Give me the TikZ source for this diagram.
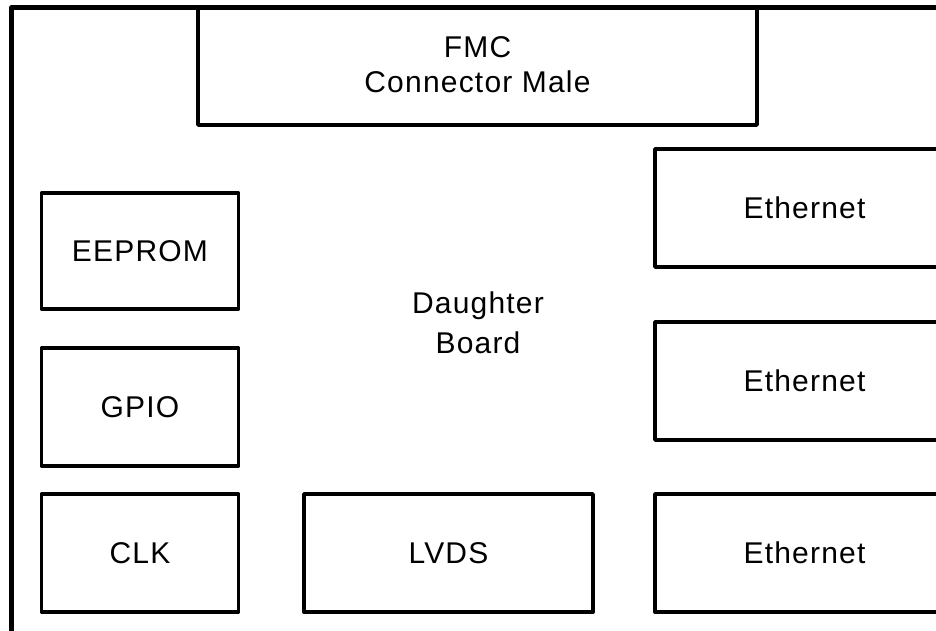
\documentclass[tikz,border=0pt]{standalone}
\usepackage{fontspec}
\setmainfont{Liberation Sans}[LetterSpace=4]
\begin{document}
\begin{tikzpicture}[x=1pt,y=-1pt,
  box/.style={draw=black, line width=3.8pt, line join=round, rectangle, inner sep=0pt,
    font=\fontsize{30}{35}\selectfont},
  outerline/.style={draw=black, line width=4.8pt, line join=round},
  txt/.style={inner sep=0pt, align=center}]
\useasboundingbox (0,0) rectangle (936,630);
\clip (0,0) rectangle (936,630);
% outer board
\draw[outerline] (11.5,700) -- (11.5,7.5) -- (1000,7.5);
% FMC connector
\node[box, minimum width=559pt, minimum height=117.5pt] (fmc) at (477.5,66.25) {};
\node[txt, anchor=base, font=\fontsize{30}{35}\selectfont] (fmctxt) at (477.5,92) {FMC\\Connector Male};
% left column
\node[box, minimum width=197pt, minimum height=116pt] (eeprom) at (140,251) {EEPROM};
\node[box, minimum width=197pt, minimum height=118pt] (gpio) at (140,407) {GPIO};
\node[box, minimum width=197pt, minimum height=118pt] (clk) at (140,553) {CLK};
% LVDS
\node[box, minimum width=289pt, minimum height=118pt] (lvds) at (448.5,553) {LVDS};
% Ethernet column (extends past the right edge)
\node[box, minimum width=299pt, minimum height=118pt] (eth1) at (804.5,208) {Ethernet};
\node[box, minimum width=299pt, minimum height=118pt] (eth2) at (804.5,381) {Ethernet};
\node[box, minimum width=299pt, minimum height=118pt] (eth3) at (804.5,553) {Ethernet};
% board label
\node[txt, anchor=base, font=\fontsize{30}{40}\selectfont] (db) at (478,353) {Daughter\\Board};
\end{tikzpicture}
\end{document}
